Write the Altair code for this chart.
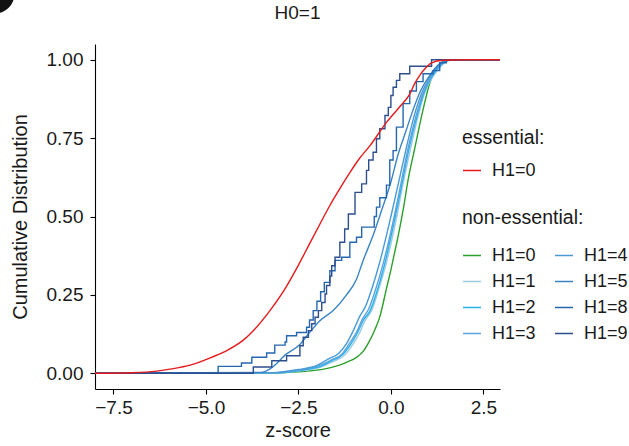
import altair as alt
import pandas as pd

# ---- data (z-score, cumulative fraction) ----
ess_h1_0_z = [-8.0, -7.0, -6.33, -5.93, -5.43, -4.85, -4.4, -4.0, -3.72, -3.27, -2.86, -2.5, -2.19, -1.9, -1.65, -1.4, -1.11, -0.85, -0.57, -0.12, 0.24, 0.51, 0.65, 0.78, 0.95, 1.1, 1.4, 2.0, 2.95]
ess_h1_0_f = [0.0, 0.002, 0.007, 0.014, 0.026, 0.051, 0.075, 0.105, 0.136, 0.2, 0.27, 0.345, 0.415, 0.48, 0.535, 0.585, 0.64, 0.685, 0.725, 0.8, 0.85, 0.89, 0.925, 0.95, 0.975, 0.99, 0.998, 1.0, 1.0]

non_h1_0_z = [-8.0, -3.5, -2.5, -2.0, -1.5, -1.2, -0.93, -0.75, -0.57, -0.43, -0.3, -0.12, 0.0, 0.11, 0.2, 0.33, 0.47, 0.65, 0.83, 1.05, 1.23, 1.45, 1.7, 2.95]
non_h1_0_f = [0.0, 0.001, 0.005, 0.01, 0.022, 0.035, 0.051, 0.07, 0.105, 0.14, 0.18, 0.27, 0.33, 0.39, 0.44, 0.52, 0.62, 0.72, 0.82, 0.925, 0.975, 0.995, 1.0, 1.0]

non_h1_1_z = [-8.0, -3.0, -2.3, -1.9, -1.55, -1.25, -1.05, -0.85, -0.7, -0.52, -0.35, -0.15, 0.16, 0.33, 0.52, 0.73, 0.9, 1.13, 1.4, 1.65, 2.95]
non_h1_1_f = [0.0, 0.002, 0.01, 0.02, 0.038, 0.058, 0.088, 0.128, 0.168, 0.2, 0.26, 0.34, 0.5, 0.604, 0.71, 0.817, 0.89, 0.944, 0.985, 1.0, 1.0]

non_h1_2_z = [-8.0, -3.0, -2.3, -1.9, -1.6, -1.3, -1.1, -0.9, -0.74, -0.56, -0.38, -0.18, 0.12, 0.3, 0.48, 0.7, 0.88, 1.1, 1.37, 1.6, 2.95]
non_h1_2_f = [0.0, 0.002, 0.012, 0.022, 0.04, 0.06, 0.09, 0.13, 0.17, 0.2, 0.26, 0.343, 0.5, 0.604, 0.71, 0.817, 0.89, 0.944, 0.985, 1.0, 1.0]

non_h1_3_z = [-8.0, -3.1, -2.4, -1.95, -1.62, -1.32, -1.14, -0.92, -0.77, -0.6, -0.42, -0.22, 0.09, 0.27, 0.45, 0.67, 0.86, 1.08, 1.35, 1.6, 2.95]
non_h1_3_f = [0.0, 0.002, 0.012, 0.024, 0.042, 0.062, 0.092, 0.133, 0.173, 0.205, 0.265, 0.345, 0.5, 0.604, 0.71, 0.817, 0.89, 0.944, 0.985, 1.0, 1.0]

non_h1_4_z = [-8.0, -3.2, -2.5, -2.0, -1.7, -1.4, -1.2, -1.0, -0.85, -0.68, -0.5, -0.3, 0.0, 0.2, 0.4, 0.62, 0.82, 1.05, 1.33, 1.6, 2.95]
non_h1_4_f = [0.0, 0.002, 0.012, 0.025, 0.045, 0.065, 0.095, 0.14, 0.18, 0.215, 0.275, 0.355, 0.5, 0.604, 0.71, 0.817, 0.89, 0.944, 0.985, 1.0, 1.0]

non_h1_5_z = [-8.0, -3.5, -3.27, -2.82, -2.46, -2.2, -1.92, -1.56, -1.2, -0.93, -0.75, -0.48, -0.25, 0.0, 0.2, 0.4, 0.6, 0.8, 1.05, 1.3, 1.6, 2.95]
non_h1_5_f = [0.0, 0.003, 0.014, 0.062, 0.092, 0.13, 0.168, 0.2, 0.25, 0.3, 0.36, 0.44, 0.52, 0.61, 0.7, 0.77, 0.84, 0.9, 0.95, 0.985, 1.0, 1.0]

non_h1_8_z = [-8.0, -4.67, -4.04, -3.76, -3.36, -3.14, -2.86, -2.82, -2.55, -2.28, -2.2, -2.1, -2.0, -1.9, -1.8, -1.65, -1.51, -1.33, -1.11, -0.93, -0.79, -0.45, -0.39, -0.3, -0.12, -0.03, 0.06, 0.15, 0.33, 0.51, 0.69, 0.87, 1.14, 1.32, 1.5, 2.95]
non_h1_8_f = [0.0, 0.022, 0.033, 0.051, 0.065, 0.09, 0.1, 0.12, 0.13, 0.147, 0.17, 0.2, 0.23, 0.26, 0.29, 0.327, 0.36, 0.37, 0.418, 0.434, 0.466, 0.5, 0.53, 0.56, 0.6, 0.68, 0.71, 0.785, 0.86, 0.9, 0.93, 0.955, 0.965, 0.99, 1.0, 1.0]

non_h1_9_z = [-8.0, -3.72, -3.22, -2.82, -2.46, -2.37, -2.23, -2.14, -2.05, -1.96, -1.87, -1.78, -1.74, -1.65, -1.6, -1.51, -1.38, -1.25, -1.15, -0.97, -0.79, -0.66, -0.6, -0.48, -0.39, -0.3, -0.16, -0.07, 0.0, 0.06, 0.15, 0.24, 0.51, 1.1, 2.95]
non_h1_9_f = [0.0, 0.02, 0.04, 0.056, 0.088, 0.115, 0.136, 0.158, 0.179, 0.2, 0.226, 0.253, 0.28, 0.31, 0.343, 0.37, 0.418, 0.46, 0.508, 0.577, 0.604, 0.647, 0.68, 0.705, 0.748, 0.78, 0.822, 0.848, 0.886, 0.912, 0.934, 0.955, 0.979, 1.0, 1.0]

ess_labels = ["H1=0"]
ess_colors = ["#e41a1c"]
non_labels = ["H1=0", "H1=1", "H1=2", "H1=3", "H1=4", "H1=5", "H1=8", "H1=9"]
non_colors = ["#2ca02c", "#9ecae1", "#29b2ea", "#5aa3dc", "#4a9ad6", "#3a84c4", "#2467b0", "#2d4e8e"]

def frame(z, f, label):
    return pd.DataFrame({"z": z, "F": f, "grp": label})

ess_df = frame(ess_h1_0_z, ess_h1_0_f, "H1=0")
smooth_df = pd.concat([
    frame(non_h1_0_z, non_h1_0_f, "H1=0"),
    frame(non_h1_1_z, non_h1_1_f, "H1=1"),
    frame(non_h1_2_z, non_h1_2_f, "H1=2"),
    frame(non_h1_3_z, non_h1_3_f, "H1=3"),
    frame(non_h1_4_z, non_h1_4_f, "H1=4"),
    frame(non_h1_5_z, non_h1_5_f, "H1=5"),
])
step_df = pd.concat([
    frame(non_h1_8_z, non_h1_8_f, "H1=8"),
    frame(non_h1_9_z, non_h1_9_f, "H1=9"),
])

FONT = "Liberation Sans"
xs = alt.X("z:Q", title="z-score",
           scale=alt.Scale(domain=[-8.0, 2.95], nice=False, zero=False),
           axis=alt.Axis(values=[-7.5, -5.0, -2.5, 0.0, 2.5], format=".1f"))
ys = alt.Y("F:Q", title="Cumulative Distribution",
           scale=alt.Scale(domain=[-0.05, 1.05], nice=False, zero=False),
           axis=alt.Axis(values=[0, 0.25, 0.5, 0.75, 1.0], format=".2f"))

leg_common = dict(symbolType="stroke", symbolSize=324, symbolStrokeWidth=1.5,
                  labelFontSize=18, titleFontSize=19.5, titleFontWeight="normal",
                  labelFont=FONT, titleFont=FONT, labelColor="#1a1a1a", titleColor="#1a1a1a",
                  orient="none", labelOffset=10, rowPadding=7)

ess_leg = alt.Legend(title="essential:", legendX=367, legendY=85, titlePadding=12, **leg_common)
non_leg = alt.Legend(title="non-essential:", legendX=367, legendY=165, columns=2,
                     columnPadding=16, titlePadding=17, **leg_common)

ess = alt.Chart(ess_df).mark_line(strokeWidth=1.4, interpolate="monotone").encode(
    x=xs, y=ys,
    color=alt.Color("grp:N", scale=alt.Scale(domain=ess_labels, range=ess_colors), legend=ess_leg),
    order=alt.Order("z:Q"),
)
non_color = alt.Color("grp:N", scale=alt.Scale(domain=non_labels, range=non_colors), legend=non_leg)
smooth = alt.Chart(smooth_df).mark_line(strokeWidth=1.4, interpolate="monotone").encode(
    x=xs, y=ys, color=non_color, order=alt.Order("z:Q"))
step = alt.Chart(step_df).mark_line(strokeWidth=1.4, interpolate="step-after").encode(
    x=xs, y=ys, color=non_color, order=alt.Order("z:Q"))

non = alt.layer(smooth, step)

# partially cropped panel badge in the top-left corner
badge = alt.Chart(pd.DataFrame({"k": [0]})).mark_point(
    filled=True, color="#111111", opacity=1, size=1500, shape="circle"
).encode(x=alt.value(-100), y=alt.value(-50))

# the badge widens the chart bounds upward by ~72 px; the negative offset
# brings the title back to ~24 px above the plot area
chart = alt.layer(non, ess, badge).resolve_scale(color="independent").properties(
    width=405, height=345,
    title=alt.TitleParams("H0=1", fontSize=19, font=FONT, fontWeight="normal",
                          color="#1a1a1a", anchor="middle", offset=-48, frame="group"),
    autosize=alt.AutoSizeParams(type="none"),
    padding={"left": 95, "top": 44, "right": 129, "bottom": 57},
).configure_view(stroke=None).configure_axis(
    grid=False, domainColor="#000000", domainWidth=1.1, tickColor="#000000", tickWidth=1.1,
    tickSize=5, labelFontSize=19, labelFont=FONT, labelColor="#1a1a1a",
    titleFontSize=20, titleFont=FONT, titleFontWeight="normal", titleColor="#1a1a1a",
).configure_axisY(titlePadding=16, labelPadding=7).configure_axisX(titlePadding=3, labelPadding=4)

chart.save("out.html", embed_options={"renderer": "svg", "actions": False})
